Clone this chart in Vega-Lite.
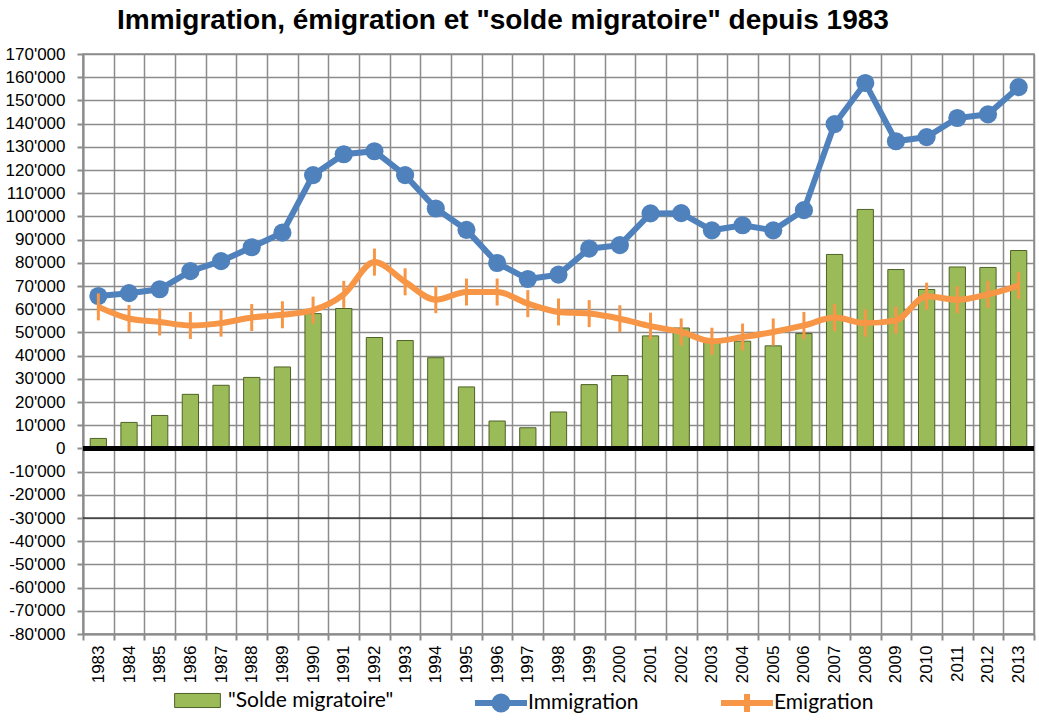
{
  "$schema": "https://vega.github.io/schema/vega-lite/v6.json",
  "width": 951,
  "height": 580,
  "autosize": {"type": "none"},
  "padding": {"left": 83, "top": 54, "right": 5, "bottom": 86},
  "background": "white",
  "title": {
    "text": "Immigration, émigration et \"solde migratoire\" depuis 1983",
    "font": "Liberation Sans",
    "fontSize": 28,
    "fontWeight": "bold",
    "color": "#000000",
    "anchor": "start",
    "frame": "group",
    "dx": 34,
    "offset": 10
  },
  "data": {
    "values": [
      {"annee": "1983", "solde": 4300, "Immigration": 65700, "Emigration": 61000},
      {"annee": "1984", "solde": 11200, "Immigration": 66900, "Emigration": 56000},
      {"annee": "1985", "solde": 14200, "Immigration": 68600, "Emigration": 54500},
      {"annee": "1986", "solde": 23300, "Immigration": 76400, "Emigration": 53000},
      {"annee": "1987", "solde": 27200, "Immigration": 80700, "Emigration": 54000},
      {"annee": "1988", "solde": 30600, "Immigration": 86700, "Emigration": 56400},
      {"annee": "1989", "solde": 35100, "Immigration": 93000, "Emigration": 57600},
      {"annee": "1990", "solde": 58100, "Immigration": 117800, "Emigration": 59600},
      {"annee": "1991", "solde": 60300, "Immigration": 126800, "Emigration": 66400},
      {"annee": "1992", "solde": 47800, "Immigration": 128100, "Emigration": 80300},
      {"annee": "1993", "solde": 46500, "Immigration": 117800, "Emigration": 71800},
      {"annee": "1994", "solde": 39100, "Immigration": 103400, "Emigration": 64100},
      {"annee": "1995", "solde": 26500, "Immigration": 94200, "Emigration": 67400},
      {"annee": "1996", "solde": 11800, "Immigration": 79900, "Emigration": 67400},
      {"annee": "1997", "solde": 8900, "Immigration": 73000, "Emigration": 62400},
      {"annee": "1998", "solde": 15700, "Immigration": 74900, "Emigration": 58800},
      {"annee": "1999", "solde": 27500, "Immigration": 86100, "Emigration": 58100},
      {"annee": "2000", "solde": 31400, "Immigration": 87600, "Emigration": 55900},
      {"annee": "2001", "solde": 48500, "Immigration": 101300, "Emigration": 52700},
      {"annee": "2002", "solde": 51900, "Immigration": 101400, "Emigration": 50200},
      {"annee": "2003", "solde": 47000, "Immigration": 94000, "Emigration": 46200},
      {"annee": "2004", "solde": 46200, "Immigration": 96200, "Emigration": 48000},
      {"annee": "2005", "solde": 44200, "Immigration": 94000, "Emigration": 50200},
      {"annee": "2006", "solde": 49500, "Immigration": 102700, "Emigration": 53000},
      {"annee": "2007", "solde": 83600, "Immigration": 139800, "Emigration": 56400},
      {"annee": "2008", "solde": 103000, "Immigration": 157500, "Emigration": 54000},
      {"annee": "2009", "solde": 77100, "Immigration": 132400, "Emigration": 55200},
      {"annee": "2010", "solde": 68500, "Immigration": 134200, "Emigration": 65600},
      {"annee": "2011", "solde": 78200, "Immigration": 142400, "Emigration": 64100},
      {"annee": "2012", "solde": 78000, "Immigration": 144000, "Emigration": 66400},
      {"annee": "2013", "solde": 85300, "Immigration": 155700, "Emigration": 70200}
    ]
  },
  "layer": [
    {
      "mark": {"type": "bar", "width": {"band": 0.53}, "stroke": "#4f6228", "strokeWidth": 1},
      "encoding": {
        "x": {
          "field": "annee",
          "type": "ordinal",
          "scale": {"paddingInner": 0, "paddingOuter": 0},
          "axis": {"title": null}
        },
        "y": {
          "field": "solde",
          "type": "quantitative",
          "scale": {"domain": [-80000, 170000], "nice": false},
          "axis": {
            "title": null,
            "format": ",d",
            "labelOverlap": false,
            "labelSeparation": 0,
            "tickCount": 26,
            "values": [-80000, -70000, -60000, -50000, -40000, -30000, -20000, -10000, 0, 10000, 20000, 30000, 40000, 50000, 60000, 70000, 80000, 90000, 100000, 110000, 120000, 130000, 140000, 150000, 160000, 170000]
          }
        },
        "fill": {
          "datum": "\"Solde migratoire\"",
          "type": "nominal",
          "scale": {"range": ["#9bbb59"]},
          "legend": {
            "title": null,
            "orient": "none",
            "legendX": 88,
            "legendY": 620,
            "padding": 0,
            "symbolType": "M-0.88,-0.27H0.88V0.27H-0.88Z",
            "symbolSize": 2704,
            "symbolStrokeColor": "#4f6228",
            "symbolStrokeWidth": 1,
            "labelOffset": 4
          }
        }
      }
    },
    {
      "data": {"values": [{"niveau": -30000}]},
      "mark": {"type": "rule", "color": "#000000", "strokeWidth": 1},
      "encoding": {"y": {"field": "niveau", "type": "quantitative"}}
    },
    {
      "data": {"values": [{"niveau": 0}]},
      "mark": {"type": "rule", "color": "#000000", "strokeWidth": 5},
      "encoding": {"y": {"field": "niveau", "type": "quantitative"}}
    },
    {
      "mark": {"type": "line", "strokeWidth": 6},
      "encoding": {
        "x": {"field": "annee", "type": "ordinal"},
        "y": {"field": "Immigration", "type": "quantitative"},
        "stroke": {
          "datum": "Immigration",
          "type": "nominal",
          "scale": {"range": ["#4f81bd"]},
          "legend": {
            "title": null,
            "orient": "none",
            "legendX": 389,
            "legendY": 620,
            "padding": 0,
            "symbolType": "M-1,0H1M-0.115,0A0.115,0.115,0,1,0,0.115,0A0.115,0.115,0,1,0,-0.115,0M-0.25,0A0.25,0.25,0,1,0,0.25,0A0.25,0.25,0,1,0,-0.25,0",
            "symbolSize": 2704,
            "symbolStrokeWidth": 6,
            "labelOffset": -2
          }
        }
      }
    },
    {
      "mark": {"type": "point", "shape": "circle", "filled": true, "size": 330, "opacity": 1, "color": "#4f81bd"},
      "encoding": {
        "x": {"field": "annee", "type": "ordinal"},
        "y": {"field": "Immigration", "type": "quantitative"}
      }
    },
    {
      "mark": {"type": "line", "strokeWidth": 6, "interpolate": "monotone"},
      "encoding": {
        "x": {"field": "annee", "type": "ordinal"},
        "y": {"field": "Emigration", "type": "quantitative"},
        "color": {
          "datum": "Emigration",
          "type": "nominal",
          "scale": {"range": ["#f79646"]},
          "legend": {
            "title": null,
            "orient": "none",
            "legendX": 635,
            "legendY": 620,
            "padding": 0,
            "symbolType": "M-1,0H1M0,-0.35V0.35",
            "symbolSize": 2704,
            "symbolStrokeWidth": 6,
            "labelOffset": -2
          }
        }
      }
    },
    {
      "mark": {"type": "point", "shape": "M0,-1V1", "filled": false, "size": 729, "strokeWidth": 3, "opacity": 1, "color": "#f79646"},
      "encoding": {
        "x": {"field": "annee", "type": "ordinal"},
        "y": {"field": "Emigration", "type": "quantitative"}
      }
    }
  ],
  "config": {
    "locale": {
      "number": {"decimal": ".", "thousands": "'", "grouping": [3], "currency": ["", ""], "minus": "-"}
    },
    "view": {"stroke": "#8c8c8c", "strokeWidth": 1.5},
    "legend": {
      "labelFont": "Lato",
      "labelFontSize": 21,
      "labelColor": "#000000",
      "labelLimit": 400
    },
    "axis": {
      "labelFont": "Liberation Sans",
      "labelFontSize": 17,
      "labelColor": "#000000",
      "labelOverlap": false,
      "domainColor": "#8c8c8c",
      "domainWidth": 2,
      "tickColor": "#8c8c8c",
      "tickWidth": 2,
      "tickSize": 6,
      "grid": true,
      "gridColor": "#8c8c8c",
      "gridWidth": 1.5,
      "gridOpacity": 1
    },
    "axisX": {
      "labelAngle": -90,
      "labelAlign": "right",
      "labelBaseline": "middle",
      "labelPadding": 5,
      "tickBand": "extent"
    },
    "axisY": {
      "labelPadding": 12,
      "labelOverlap": false
    }
  }
}
